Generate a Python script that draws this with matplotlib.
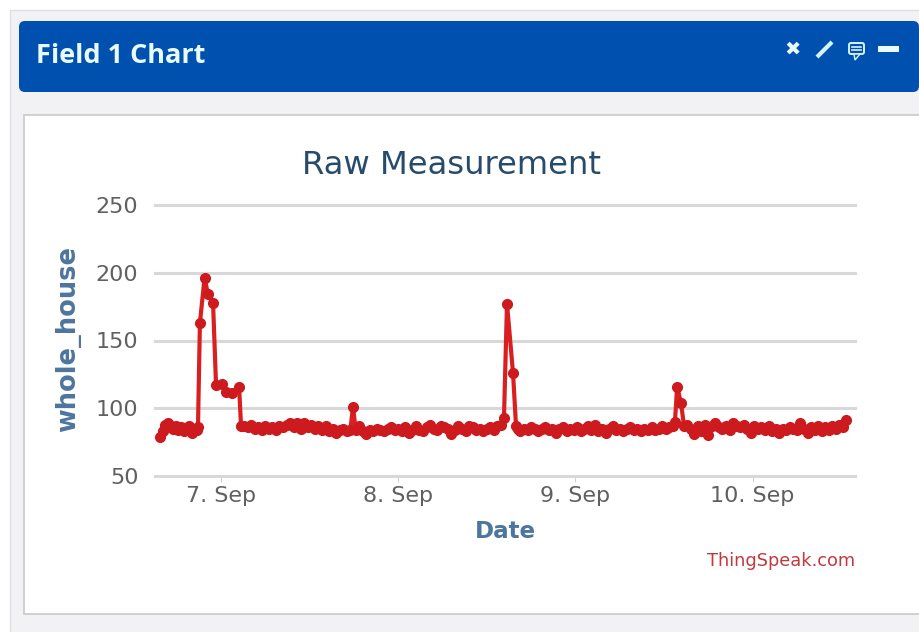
import matplotlib
matplotlib.use("Agg")
import matplotlib.pyplot as plt
from matplotlib.patches import FancyBboxPatch, Rectangle, Polygon

# -------------------------------
# DATA (x = day of September)
# -------------------------------
days = [
    6.656, 6.670, 6.684, 6.700, 6.715, 6.730, 6.745, 6.760, 6.775, 6.790, 6.805, 6.820, 6.835, 6.850, 6.862, 6.870,
    6.881, 6.907, 6.927, 6.955, 6.972, 7.006, 7.028, 7.062, 7.102, 7.113,
    7.13, 7.15, 7.17, 7.19, 7.21, 7.23, 7.25, 7.27, 7.29, 7.31, 7.33, 7.35, 7.37, 7.39, 7.41, 7.43,
    7.45, 7.47, 7.49, 7.51, 7.53, 7.55, 7.57, 7.59, 7.61, 7.63, 7.65, 7.67, 7.69, 7.71, 7.73, 7.745,
    7.76, 7.78, 7.80, 7.82, 7.84, 7.86, 7.88, 7.90, 7.92, 7.94, 7.96, 7.98, 8.00, 8.02, 8.04, 8.06,
    8.08, 8.10, 8.12, 8.14, 8.16, 8.18, 8.20, 8.22, 8.24, 8.26, 8.28, 8.30, 8.32, 8.34, 8.36, 8.38,
    8.40, 8.42, 8.44, 8.46, 8.48, 8.50, 8.52, 8.54, 8.56, 8.58, 8.597, 8.614, 8.648, 8.665, 8.676,
    8.69, 8.71, 8.73, 8.75, 8.77, 8.79, 8.81, 8.83, 8.85, 8.87, 8.89, 8.91, 8.93, 8.95, 8.97, 8.99,
    9.01, 9.03, 9.05, 9.07, 9.09, 9.11, 9.13, 9.15, 9.17, 9.19, 9.21, 9.23, 9.25, 9.27, 9.29, 9.31,
    9.33, 9.35, 9.37, 9.39, 9.41, 9.43, 9.45, 9.47, 9.49, 9.51, 9.53, 9.55, 9.562, 9.574, 9.596, 9.613,
    9.63, 9.65, 9.67, 9.69, 9.71, 9.73, 9.75, 9.77, 9.79, 9.81, 9.83, 9.85, 9.87, 9.89, 9.91, 9.93,
    9.95, 9.97, 9.99, 10.01, 10.03, 10.05, 10.07, 10.09, 10.11, 10.13, 10.15, 10.17, 10.19, 10.21, 10.23, 10.25,
    10.27, 10.29, 10.31, 10.33, 10.35, 10.37, 10.39, 10.41, 10.43, 10.45, 10.47, 10.49, 10.51, 10.53,
]
watts = [
    79, 83, 88, 89, 87, 85, 87, 84, 86, 83, 84, 87, 82, 85, 84, 86,
    163, 196, 184, 178, 117, 118, 112, 111, 116, 87,
    87, 86, 88, 85, 86, 84, 87, 85, 86, 84, 87, 86, 88, 89, 86, 89,
    85, 89, 86, 88, 85, 87, 84, 87, 83, 85, 82, 84, 85, 83, 84, 101,
    84, 87, 83, 81, 84, 83, 85, 84, 83, 85, 86, 84, 85, 83, 86, 82,
    84, 87, 84, 83, 86, 88, 85, 84, 87, 86, 85, 81, 84, 87, 85, 83,
    87, 86, 84, 85, 83, 85, 86, 84, 87, 88, 93, 177, 126, 87, 85,
    83, 85, 84, 86, 85, 83, 85, 86, 84, 85, 82, 85, 86, 83, 85, 84,
    86, 83, 85, 87, 84, 88, 83, 85, 82, 85, 87, 84, 85, 83, 85, 86,
    84, 85, 83, 85, 84, 86, 84, 85, 87, 85, 86, 87, 90, 116, 104, 87,
    88, 85, 81, 87, 83, 88, 80, 87, 89, 86, 85, 87, 84, 89, 87, 86,
    88, 85, 82, 87, 85, 86, 84, 87, 83, 85, 82, 85, 84, 86, 85, 84,
    89, 85, 82, 86, 84, 87, 83, 86, 84, 87, 85, 88, 86, 91,
]
tick_days = [7, 8, 9, 10]
tick_names = ["7. Sep", "8. Sep", "9. Sep", "10. Sep"]
y_ticks = [50, 100, 150, 200, 250]

W, H = 920, 632
fig = plt.figure(figsize=(W / 100, H / 100), dpi=100, facecolor="white")

# -------------------------------
# PAGE AROUND THE CHART (pixel coordinates)
# -------------------------------
page = fig.add_axes([0, 0, 1, 1], zorder=0)
page.set_xlim(0, W)
page.set_ylim(H, 0)
page.axis("off")

page.add_patch(Rectangle((10, 10), 915, 630, fc="#f2f2f4", ec="#e2dfe2", lw=1))
page.add_patch(Rectangle((24, 115), 900, 499, fc="white", ec="#c9c9c9", lw=1.2))
page.add_patch(FancyBboxPatch((19, 21), 900, 71, boxstyle="round,pad=0,rounding_size=6",
                              fc="#0050b0", ec="none"))
page.text(36, 56, "Field 1 Chart", color="#e8fbff", fontsize=19.5, fontweight="bold",
          family="Open Sans", va="center", ha="left")

# header icons
page.text(793, 49, "\u2716", color="#eafaff", fontsize=14, ha="center", va="center", family="DejaVu Sans")
page.plot([817, 832], [57, 42], color="#d6f2ff", lw=3, solid_capstyle="butt")
page.add_patch(FancyBboxPatch((849, 43), 15, 11, boxstyle="round,pad=0,rounding_size=2",
                              fc="none", ec="#d6f2ff", lw=1.4))
page.add_patch(Polygon([[854, 54], [860, 54], [855, 60]], fc="#0050b0", ec="#d6f2ff", lw=1))
page.plot([852, 861], [47, 47], color="#d6f2ff", lw=1.2)
page.plot([852, 861], [50, 50], color="#d6f2ff", lw=1.2)
page.add_patch(Rectangle((878, 46), 21, 6, fc="#eafaff", ec="none"))

# -------------------------------
# CHART
# -------------------------------
left, right, top, bottom = 155, 855, 205, 476
ax = fig.add_axes([left / W, 1 - bottom / H, (right - left) / W, (bottom - top) / H], zorder=1)
ax.patch.set_alpha(0)
ax.set_xlim(6.6275, 10.578)
ax.set_ylim(50, 250)
for side in ax.spines.values():
    side.set_visible(False)

ax.grid(axis="y", color="#d8d8d8", lw=2.2, clip_on=False)
ax.set_axisbelow(True)
ax.plot(days, watts, color="#d91f1f", lw=3, marker="o", ms=7,
        mfc="#cc1a1f", mec="#cc1a1f", clip_on=False)

ax.set_xticks(tick_days)
ax.set_xticklabels(tick_names)
ax.set_yticks(y_ticks)
ax.tick_params(axis="x", length=4, width=0.8, color="#d0d0d0", labelcolor="#606060",
               labelsize=16, pad=3)
ax.tick_params(axis="y", length=0, labelcolor="#606060", labelsize=16, pad=12)

page.text(452, 165, "Raw Measurement", color="#274b6d", fontsize=23.2, ha="center", va="center")
page.text(505, 531, "Date", color="#4d759e", fontsize=16.6, fontweight="bold", ha="center", va="center")
page.text(68, 339, "whole_house", color="#4d759e", fontsize=18.5, fontweight="bold",
          rotation=90, ha="center", va="center")
page.text(855, 561, "ThingSpeak.com", color="#c23a3f", fontsize=12.8, ha="right", va="center")

fig.savefig("out.png", dpi=100)
